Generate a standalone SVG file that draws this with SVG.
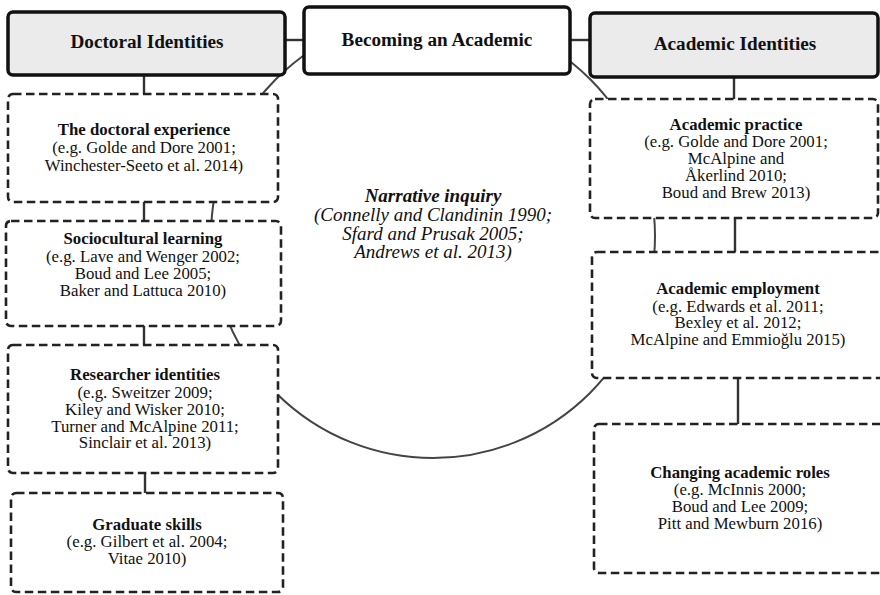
<svg xmlns="http://www.w3.org/2000/svg" width="880" height="595" viewBox="0 0 880 595">
<style>
.hdr{fill:#ebebeb;stroke:#111;stroke-width:3.5}
.hdrw{fill:#fff;stroke:#111;stroke-width:3.5}
.box{fill:#fff;stroke:#222;stroke-width:2.6;stroke-dasharray:8.5 4.5}
.conn{fill:none;stroke:#333;stroke-width:2.4}
.arc{fill:none;stroke:#444;stroke-width:2}
text{font-family:"Liberation Serif","Times New Roman",serif;fill:#111;text-anchor:middle}
.h{font-size:19.2px;font-weight:bold}
.t{font-size:16.8px;font-weight:bold}
.b{font-size:16.8px}
.it{font-size:19px;font-style:italic}
.itb{font-size:19px;font-style:italic;font-weight:bold}
</style>
<g id="connectors">
<circle class="arc" cx="433" cy="236" r="222"/>
<line class="conn" x1="285" y1="40" x2="304" y2="40"/>
<line class="conn" x1="570" y1="40" x2="590" y2="40"/>
<line class="conn" x1="144" y1="75" x2="144" y2="94"/>
<line class="conn" x1="144" y1="202" x2="144" y2="221"/>
<line class="conn" x1="144" y1="326" x2="144" y2="345"/>
<line class="conn" x1="145" y1="473" x2="145" y2="493"/>
<line class="conn" x1="734" y1="77" x2="734" y2="99"/>
<line class="conn" x1="735" y1="218" x2="735" y2="252"/>
<line class="conn" x1="738" y1="378" x2="738" y2="424"/>
</g>
<g id="doctoral-identities">
<rect class="hdr" x="8" y="12" width="277" height="63" rx="5"/>
<text class="h" x="147" y="48">Doctoral Identities</text>
</g>
<g id="becoming-an-academic">
<rect class="hdrw" x="304" y="7" width="266" height="67" rx="5"/>
<text class="h" x="437" y="46">Becoming an Academic</text>
</g>
<g id="academic-identities">
<rect class="hdr" x="590" y="13" width="288" height="64" rx="5"/>
<text class="h" x="735" y="50">Academic Identities</text>
</g>
<g id="doctoral-experience">
<rect class="box" x="8" y="94" width="270" height="108" rx="5"/>
<text class="t" x="144" y="135">The doctoral experience</text>
<text class="b" x="144" y="153">(e.g. Golde and Dore 2001;</text>
<text class="b" x="144" y="171">Winchester-Seeto et al. 2014)</text>
</g>
<g id="sociocultural-learning">
<rect class="box" x="6" y="221" width="275" height="105" rx="5"/>
<text class="t" x="143" y="244">Sociocultural learning</text>
<text class="b" x="143" y="262">(e.g. Lave and Wenger 2002;</text>
<text class="b" x="143" y="279">Boud and Lee 2005;</text>
<text class="b" x="143" y="296">Baker and Lattuca 2010)</text>
</g>
<g id="researcher-identities">
<rect class="box" x="8" y="345" width="270" height="128" rx="5"/>
<text class="t" x="145" y="380">Researcher identities</text>
<text class="b" x="145" y="398">(e.g. Sweitzer 2009;</text>
<text class="b" x="145" y="415">Kiley and Wisker 2010;</text>
<text class="b" x="145" y="432">Turner and McAlpine 2011;</text>
<text class="b" x="145" y="448">Sinclair et al. 2013)</text>
</g>
<g id="graduate-skills">
<rect class="box" x="11" y="493" width="272" height="99" rx="5"/>
<text class="t" x="147" y="530">Graduate skills</text>
<text class="b" x="147" y="547">(e.g. Gilbert et al. 2004;</text>
<text class="b" x="147" y="564">Vitae 2010)</text>
</g>
<g id="narrative-inquiry">
<text class="itb" x="433" y="202">Narrative inquiry</text>
<text class="it" x="433" y="221">(Connelly and Clandinin 1990;</text>
<text class="it" x="433" y="240">Sfard and Prusak 2005;</text>
<text class="it" x="433" y="258">Andrews et al. 2013)</text>
</g>
<g id="academic-practice">
<rect class="box" x="590" y="99" width="288" height="119" rx="5"/>
<text class="t" x="736" y="129.5">Academic practice</text>
<text class="b" x="736" y="146.5">(e.g. Golde and Dore 2001;</text>
<text class="b" x="736" y="163.5">McAlpine and</text>
<text class="b" x="736" y="180.5">Åkerlind 2010;</text>
<text class="b" x="736" y="197.5">Boud and Brew 2013)</text>
</g>
<g id="academic-employment">
<rect class="box" x="592" y="252" width="296" height="126" rx="5"/>
<text class="t" x="738" y="294">Academic employment</text>
<text class="b" x="738" y="312">(e.g. Edwards et al. 2011;</text>
<text class="b" x="738" y="328">Bexley et al. 2012;</text>
<text class="b" x="738" y="345">McAlpine and Emmioğlu 2015)</text>
</g>
<g id="changing-academic-roles">
<rect class="box" x="594" y="424" width="294" height="149" rx="5"/>
<text class="t" x="740" y="478">Changing academic roles</text>
<text class="b" x="740" y="495">(e.g. McInnis 2000;</text>
<text class="b" x="740" y="512">Boud and Lee 2009;</text>
<text class="b" x="740" y="529">Pitt and Mewburn 2016)</text>
</g>
</svg>
